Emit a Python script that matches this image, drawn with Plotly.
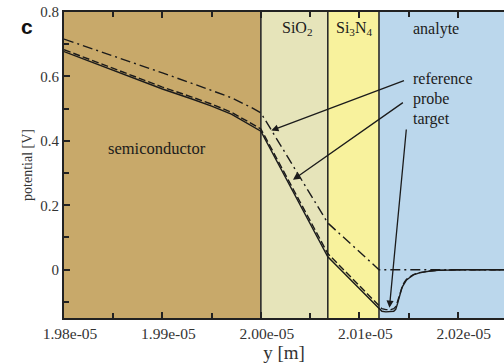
import plotly.graph_objects as go

# Layer boundaries along y [m]
y_start = 1.980e-5
y_sc_ox = 2.000e-5      # semiconductor / SiO2
y_ox_ni = 2.0068e-5     # SiO2 / Si3N4
y_ni_an = 2.0120e-5     # Si3N4 / analyte
y_end = 2.0247e-5

layer_names = ["semiconductor", "SiO<sub>2</sub>", "Si<sub>3</sub>N<sub>4</sub>", "analyte"]
layer_colors = ["#C8A96A", "#E6E4BA", "#F8F29D", "#BBD7EC"]

# Potential profiles [V]
ref_y = [1.980e-5, 1.985e-5, 1.990e-5, 1.9945e-5, 1.997e-5, 1.999e-5, 2.000e-5,
         2.0068e-5, 2.0120e-5, 2.0247e-5]
ref_v = [0.716, 0.664, 0.611, 0.562, 0.534, 0.504, 0.487,
         0.145, 0.0, 0.0]

probe_y = [1.980e-5, 1.985e-5, 1.990e-5, 1.993e-5, 1.995e-5, 1.997e-5, 1.999e-5, 2.000e-5,
           2.0068e-5, 2.0120e-5, 2.0121e-5, 2.0123e-5, 2.0127e-5, 2.0132e-5, 2.0135e-5,
           2.0137e-5, 2.0138e-5, 2.0139e-5, 2.0140e-5, 2.0141e-5, 2.0142e-5, 2.0143e-5,
           2.0144e-5, 2.0146e-5, 2.0148e-5, 2.0151e-5, 2.0155e-5, 2.0161e-5, 2.0166e-5,
           2.0172e-5, 2.0180e-5, 2.0190e-5, 2.0205e-5, 2.0247e-5]
probe_v = [0.683, 0.626, 0.567, 0.536, 0.514, 0.489, 0.454, 0.437,
           0.050, -0.110, -0.116, -0.121, -0.124, -0.124, -0.121,
           -0.115, -0.107, -0.097, -0.086, -0.074, -0.064, -0.056,
           -0.049, -0.038, -0.030, -0.023, -0.015, -0.009, -0.006,
           -0.004, -0.002, -0.001, 0.0, 0.0]

target_y = [1.980e-5, 1.985e-5, 1.990e-5, 1.993e-5, 1.995e-5, 1.997e-5, 1.999e-5, 2.000e-5,
            2.0068e-5, 2.0120e-5, 2.0121e-5, 2.0123e-5, 2.0127e-5, 2.0132e-5, 2.0135e-5,
            2.0137e-5, 2.0138e-5, 2.0139e-5, 2.0140e-5, 2.0141e-5, 2.0142e-5, 2.0143e-5,
            2.0144e-5, 2.0146e-5, 2.0148e-5, 2.0151e-5, 2.0155e-5, 2.0161e-5, 2.0166e-5,
            2.0172e-5, 2.0180e-5, 2.0190e-5, 2.0205e-5, 2.0247e-5]
target_v = [0.677, 0.620, 0.561, 0.530, 0.508, 0.483, 0.448, 0.430,
            0.040, -0.121, -0.126, -0.129, -0.131, -0.131, -0.129,
            -0.123, -0.115, -0.104, -0.092, -0.079, -0.068, -0.059,
            -0.052, -0.040, -0.032, -0.025, -0.016, -0.010, -0.007,
            -0.004, -0.002, -0.001, 0.0, 0.0]

x_tickvals = [1.98e-5, 1.99e-5, 2.00e-5, 2.01e-5, 2.02e-5]
x_ticktext = ["1.98e-05", "1.99e-05", "2.00e-05", "2.01e-05", "2.02e-05"]
x_minor = [1.985e-5, 1.995e-5, 2.005e-5, 2.015e-5]
y_tickvals = [0, 0.2, 0.4, 0.6, 0.8]
y_ticktext = ["0", "0.2", "0.4", "0.6", "0.8"]
y_minor = [-0.1, 0.1, 0.3, 0.5, 0.7]

INK = "#1b1b1b"
SERIF = "Liberation Serif, Times New Roman, serif"

fig = go.Figure()

# Coloured layer bands and their boundaries
edges = [y_start, y_sc_ox, y_ox_ni, y_ni_an, y_end]
for i, col in enumerate(layer_colors):
    fig.add_shape(type="rect", xref="x", yref="paper",
                  x0=edges[i], x1=edges[i + 1], y0=0, y1=1,
                  fillcolor=col, line_width=0, layer="below")
for b in [y_sc_ox, y_ox_ni, y_ni_an]:
    fig.add_shape(type="line", xref="x", yref="paper",
                  x0=b, x1=b, y0=0, y1=1,
                  line=dict(color="#2a2a2a", width=1.6), layer="below")

fig.add_trace(go.Scatter(x=ref_y, y=ref_v, mode="lines", name="reference",
                         line=dict(color=INK, width=1.4, dash="10px,4px,2px,4px")))
fig.add_trace(go.Scatter(x=probe_y, y=probe_v, mode="lines", name="probe",
                         line=dict(color=INK, width=1.4, dash="7px,3px")))
fig.add_trace(go.Scatter(x=target_y, y=target_v, mode="lines", name="target",
                         line=dict(color=INK, width=1.4)))

label_x = 2.01529e-5
label_font = dict(family=SERIF, size=16, color=INK)

# Layer names
fig.add_annotation(x=1.9894e-5, y=0.375, text=layer_names[0], showarrow=False,
                   font=dict(family=SERIF, size=16.5, color=INK))
fig.add_annotation(x=2.00373e-5, y=0.748, text=layer_names[1], showarrow=False,
                   font=label_font)
fig.add_annotation(x=2.00951e-5, y=0.748, text=layer_names[2], showarrow=False,
                   font=label_font)
fig.add_annotation(x=label_x, y=0.748, text=layer_names[3], showarrow=False,
                   xanchor="left", font=label_font)

# Curve labels with arrows: (text, label y, head x, head y, tail x, tail y)
labels = [("reference", 0.595, 2.00106e-5, 0.432, 2.01469e-5, 0.589),
          ("probe", 0.530, 2.00326e-5, 0.279, 2.01458e-5, 0.522),
          ("target", 0.468, 2.01306e-5, -0.118, 2.01479e-5, 0.440)]
for txt, ty, hx, hy, tx, tyy in labels:
    fig.add_annotation(x=label_x, y=ty, text=txt, showarrow=False, xanchor="left",
                       font=label_font)
    fig.add_annotation(x=hx, y=hy, ax=tx, ay=tyy, axref="x", ayref="y", xref="x", yref="y",
                       text="", showarrow=True, arrowhead=2, arrowsize=1.1,
                       arrowwidth=1.3, arrowcolor=INK)

# Panel letter
fig.add_annotation(xref="paper", yref="paper", x=-0.102, y=0.996,
                   xanchor="left", yanchor="top", text="<b>c</b>", showarrow=False,
                   font=dict(family="Liberation Sans, Arial, sans-serif", size=21, color="#111"))

fig.update_layout(
    width=504, height=363,
    margin=dict(l=64, r=0, t=12, b=45),
    paper_bgcolor="white", plot_bgcolor="white",
    showlegend=False,
    xaxis=dict(range=[y_start, y_end], tickmode="array", tickvals=x_tickvals,
               ticktext=x_ticktext, ticks="inside", ticklen=6, tickwidth=1.5,
               tickcolor="#222", showline=True, linecolor="#222", linewidth=2,
               mirror="ticks", showgrid=False, zeroline=False, ticklabelshift=6,
               tickfont=dict(family=SERIF, size=15.5, color="#333"),
               minor=dict(tickvals=x_minor, ticks="inside", ticklen=5, tickwidth=1.5,
                          tickcolor="#222"),
               title=dict(text="y [m]", font=dict(family=SERIF, size=19, color="#333"),
                          standoff=2)),
    yaxis=dict(range=[-0.15, 0.8], tickmode="array", tickvals=y_tickvals,
               ticktext=y_ticktext, ticks="inside", ticklen=6, tickwidth=1.5,
               tickcolor="#222", showline=True, linecolor="#222", linewidth=2,
               showgrid=False, zeroline=False,
               tickfont=dict(family=SERIF, size=15, color="#333"),
               minor=dict(tickvals=y_minor, ticks="inside", ticklen=5, tickwidth=1.5,
                          tickcolor="#222"),
               title=dict(text="potential [V]", font=dict(family=SERIF, size=14, color="#333"),
                          standoff=4)),
)

fig.write_html("out.html")
